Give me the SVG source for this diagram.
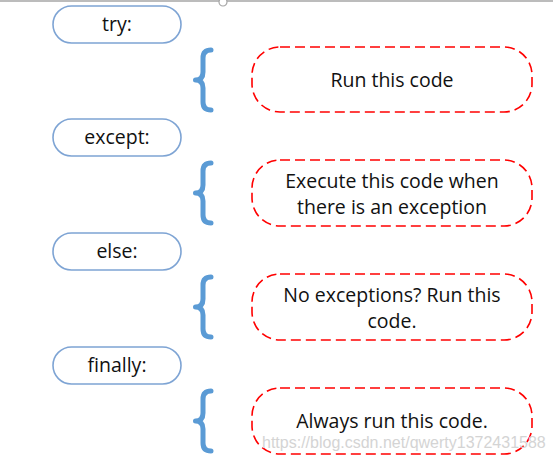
<svg xmlns="http://www.w3.org/2000/svg" width="553" height="460" viewBox="0 0 553 460">
<style>
.pill{fill:#fff;stroke:#7ea4d4;stroke-width:1.6}
.box{fill:#fff;stroke:#ff0000;stroke-width:1.6;stroke-dasharray:10 5}
.brace{fill:none;stroke:#5b9bd5;stroke-width:5;stroke-linecap:round;stroke-linejoin:round}
.t{font-family:"Open Sans","Liberation Sans",sans-serif;font-size:19.5px;fill:#111;text-anchor:middle}
.wm{font-family:"Liberation Sans",Arial,sans-serif;font-size:16px;fill:#d4d4d4}
</style>
<defs>
<path id="br" class="brace" d="M17,2 Q9,2 9,10 L9,24 Q9,32 1.5,32 Q9,32 9,40 L9,54 Q9,62 17,62"/>
</defs>
<rect width="553" height="460" fill="#fff"/>
<line x1="0" y1="1" x2="553" y2="1" stroke="#a6a6a6" stroke-width="1.5"/>
<circle cx="223" cy="2" r="4" fill="#fff" stroke="#a6a6a6" stroke-width="1.2"/>
<g id="try"><rect class="pill" x="53" y="6" width="128" height="37" rx="18.5"/><text class="t" x="117" y="31">try:</text></g>
<g id="except"><rect class="pill" x="53" y="119" width="128" height="37" rx="18.5"/><text class="t" x="117" y="144">except:</text></g>
<g id="else"><rect class="pill" x="53" y="233" width="128" height="37" rx="18.5"/><text class="t" x="117" y="258">else:</text></g>
<g id="finally"><rect class="pill" x="53" y="347" width="128" height="37" rx="18.5"/><text class="t" x="117" y="372">finally:</text></g>
<g id="connectors">
<use href="#br" x="194" y="48"/>
<use href="#br" x="194" y="161"/>
<use href="#br" x="194" y="275"/>
<use href="#br" x="194" y="389"/>
</g>
<g id="run"><rect class="box" x="252" y="47" width="280" height="65" rx="28"/><text class="t" x="392" y="87">Run this code</text></g>
<g id="exc"><rect class="box" x="252" y="160" width="280" height="66" rx="28"/><text class="t" x="392" y="188">Execute this code when</text><text class="t" x="392" y="214">there is an exception</text></g>
<g id="noexc"><rect class="box" x="252" y="274" width="280" height="66" rx="28"/><text class="t" x="392" y="302">No exceptions? Run this</text><text class="t" x="392" y="328">code.</text></g>
<g id="always"><rect class="box" x="252" y="388" width="280" height="66" rx="28"/><text class="t" x="392" y="428">Always run this code.</text></g>
<text class="wm" x="262" y="448">https://blog.csdn.net/qwerty1372431588</text>
</svg>
